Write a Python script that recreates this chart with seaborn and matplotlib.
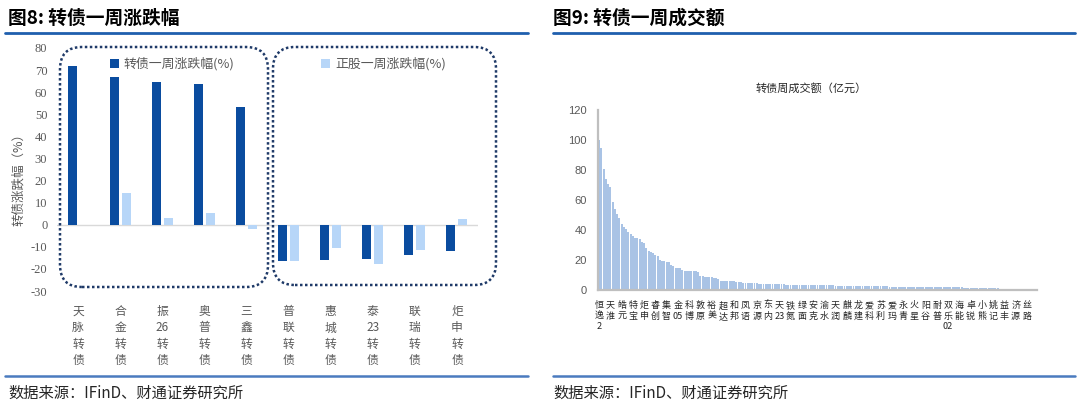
import re
import numpy as np
import pandas as pd
import matplotlib
matplotlib.use('Agg')
import matplotlib.pyplot as plt
import seaborn as sns
from matplotlib.patches import FancyBboxPatch
from matplotlib.lines import Line2D
from matplotlib.transforms import IdentityTransform

sns.set_theme(style='white')
plt.rcParams['font.family'] = ['Noto Sans CJK SC', 'DejaVu Sans']
plt.rcParams['axes.unicode_minus'] = False

# ---- data: 图8 转债一周涨跌幅 ----
bonds = ['天脉转债', '合金转债', '振26转债', '奥普转债', '三鑫转债',
         '普联转债', '惠城转债', '泰23转债', '联瑞转债', '炬申转债']
cb_chg = [72, 67, 64.5, 63.5, 53.5, -16.5, -16, -15.5, -13.5, -12]
stock_chg = [0, 14.5, 3, 5.5, -2, -16.5, -10.5, -18, -11.5, 2.5]
series_names = ['转债一周涨跌幅(%)', '正股一周涨跌幅(%)']

# ---- data: 图9 转债一周成交额 (亿元), sorted descending ----
turnover = [
    100, 95, 81, 74, 70.5, 68.5, 59, 54, 51, 48,
    44, 42, 41, 39, 37.5, 36, 35, 34.5, 34, 32,
    31.5, 28, 26, 25.5, 25, 23.5, 23, 20, 19.5, 19.5,
    19, 18.5, 16.5, 16, 15, 14.8, 14.5, 13.3, 13, 13,
    12.8, 12.8, 12.7, 12.5, 12.2, 9.5, 9.3, 9, 8.8, 8.6,
    8.4, 8.2, 8, 7.5, 6.3, 6.2, 6.1, 6, 5.9, 5.8,
    5.7, 5.5, 5.3, 5.1, 5, 4.9, 4.8, 4.7, 4.6, 4.5,
    4.4, 4.3, 4.2, 4.2, 4.1, 4.1, 4, 4, 3.9, 3.9,
    3.8, 3.8, 3.7, 3.6, 3.6, 3.5, 3.5, 3.5, 3.4, 3.4,
    3.4, 3.3, 3.3, 3.3, 3.3, 3.2, 3.2, 3.2, 3.2, 3.2,
    3.1, 3.1, 3.1, 3.1, 3.1, 3.0, 3.0, 3.0, 2.9, 2.9,
    2.9, 2.8, 2.8, 2.8, 2.7, 2.7, 2.7, 2.7, 2.6, 2.6,
    2.6, 2.5, 2.5, 2.5, 2.5, 2.4, 2.4, 2.4, 2.4, 2.3,
    2.3, 2.3, 2.3, 2.2, 2.2, 2.2, 2.2, 2.1, 2.1, 2.1,
    2.1, 2.0, 2.0, 2.0, 2.0, 2.0, 1.9, 1.9, 1.9, 1.9,
    1.9, 1.8, 1.8, 1.8, 1.8, 1.8, 1.7, 1.7, 1.7, 1.7,
    1.7, 1.7, 1.6, 1.6, 1.6, 1.6, 1.5, 1.5, 1.4, 1.4,
    1.3, 1.3, 1.2, 1.2, 1.1, 1.1, 1.1, 1.1, 1.0, 1.0,
    1.0, 1.0, 1.0, 1.0, 1.0, 0.9, 0.9, 0.9, 0.9, 0.9,
    0.9, 0.9, 0.9, 0.9, 0.9,
]
# every 5th bar carries a (truncated) name on the axis
shown_names = ['恒逸2', '天淮', '皓元', '特宝', '炬申', '睿创', '集智', '金05', '科博', '敦原',
               '裕美', '超达', '和邦', '凤语', '京源', '东内', '天23', '铁氮', '绿面', '安克',
               '渝水', '天润', '麒麟', '龙建', '爱科', '苏利', '爱玛', '永青', '火星', '阳谷',
               '耐普', '双乐02', '海能', '卓锐', '小熊', '姚记', '益丰', '济源', '丝路']
label_step = 5

dark_blue = '#0a4c9f'
light_blue = '#b7d6f8'
bar_blue = '#a9c3e5'
grey_txt = '#595959'
W, H = 1080, 412


def stack(s):
    return '\n'.join(re.findall(r'\d+|.', s))


fig = plt.figure(figsize=(W / 100, H / 100), dpi=100)

# ---------------- left chart ----------------
ax1 = fig.add_axes([57 / W, 1 - 291 / H, 421 / W, 243 / H])
df = pd.DataFrame({
    'bond': bonds * 2,
    'series': [series_names[0]] * len(bonds) + [series_names[1]] * len(bonds),
    'value': cb_chg + stock_chg,
})
sns.barplot(data=df, x='bond', y='value', hue='series', palette=[dark_blue, light_blue],
            width=0.57, gap=0.25, saturation=1, linewidth=0, legend=False, ax=ax1)
ax1.axhline(0, color='#d9d9d9', lw=1, zorder=0)
ax1.set_ylim(-30, 80)
ax1.set_yticks(range(-30, 81, 10))
ax1.set_xlim(-0.5, len(bonds) - 0.5)
for s in ax1.spines.values():
    s.set_visible(False)
ax1.tick_params(axis='both', length=0)
ax1.tick_params(axis='y', pad=7)
for t in ax1.get_yticklabels():
    t.set_family('Liberation Serif')
    t.set_fontsize(9)
    t.set_color(grey_txt)
ax1.set_xticks(range(len(bonds)))
ax1.set_xticklabels([stack(b) for b in bonds], fontsize=8.5, color=grey_txt,
                    linespacing=1.35, va='top')
ax1.tick_params(axis='x', pad=10)
ax1.set_xlabel('')
ax1.set_ylabel('转债涨跌幅（%）', fontsize=9, color=grey_txt)
ax1.yaxis.set_label_coords(-0.076, 0.47)

leg1 = ax1.legend([ax1.containers[0]], [series_names[0]], loc='center left',
                  bbox_to_anchor=(0.11, 0.934), frameon=False, fontsize=9.3,
                  handlelength=0.7, handleheight=0.7, handletextpad=0.4, borderpad=0)
for t in leg1.get_texts():
    t.set_color(grey_txt)
ax1.add_artist(leg1)
leg2 = ax1.legend([ax1.containers[1]], [series_names[1]], loc='center left',
                  bbox_to_anchor=(0.612, 0.934), frameon=False, fontsize=9.3,
                  handlelength=0.7, handleheight=0.7, handletextpad=0.4, borderpad=0)
for t in leg2.get_texts():
    t.set_color(grey_txt)


def pix_box(x0, y0, x1, y1):
    p = FancyBboxPatch((x0, H - y1), x1 - x0, y1 - y0,
                       boxstyle='round,pad=0,rounding_size=22',
                       transform=IdentityTransform(), fill=False,
                       ec='#1f3a68', lw=1.8, ls=(0, (1, 1)))
    fig.add_artist(p)


pix_box(60, 47, 268, 287)
pix_box(273, 47, 496, 285)

# ---------------- right chart ----------------
ax2 = fig.add_axes([598 / W, 1 - 290 / H, 439 / W, 180 / H])
idx = np.arange(len(turnover))
sns.barplot(x=idx, y=turnover, color=bar_blue, saturation=1, width=0.85,
            linewidth=0, ax=ax2)
ax2.set_ylim(0, 120)
ax2.set_yticks(range(0, 121, 20))
ax2.set_xlim(-0.5, len(turnover) - 0.5)
for side in ['top', 'right']:
    ax2.spines[side].set_visible(False)
for side in ['left', 'bottom']:
    ax2.spines[side].set_color('#bfbfbf')
    ax2.spines[side].set_linewidth(1.6)
ax2.tick_params(axis='both', length=0)
ax2.tick_params(axis='y', pad=8)
for t in ax2.get_yticklabels():
    t.set_family('Liberation Sans')
    t.set_fontsize(8)
    t.set_color(grey_txt)
ax2.set_xticks(idx[::label_step])
ax2.set_xticklabels([stack(n) for n in shown_names], fontsize=6.5, color='#262626',
                    linespacing=1.2, va='top')
ax2.tick_params(axis='x', pad=8)
ax2.set_xlabel('')
ax2.set_ylabel('')
fig.text(811 / W, 1 - 88 / H, '转债周成交额（亿元）', fontsize=8, ha='center',
         va='center', color='#262626')

# ---------------- titles, rules, sources ----------------
fig.text(8 / W, 1 - 18 / H, '图8: 转债一周涨跌幅', fontsize=13.5, fontweight='bold',
         va='center', ha='left', color='black')
fig.text(553 / W, 1 - 18 / H, '图9: 转债一周成交额', fontsize=13.5, fontweight='bold',
         va='center', ha='left', color='black')
for x0, x1 in [(5, 528), (553, 1075)]:
    fig.add_artist(Line2D([x0 / W, x1 / W], [1 - 32.5 / H] * 2, transform=fig.transFigure,
                          color='#1f5fae', lw=2))
    fig.add_artist(Line2D([x0 / W, x1 / W], [1 - 376 / H] * 2, transform=fig.transFigure,
                          color='#4a7bbf', lw=1.8))
fig.text(8 / W, 1 - 393 / H, '数据来源：IFinD、财通证券研究所', fontsize=11,
         va='center', ha='left', color='#262626')
fig.text(553 / W, 1 - 393 / H, '数据来源：IFinD、财通证券研究所', fontsize=11,
         va='center', ha='left', color='#262626')

fig.savefig('out.png', dpi=100, facecolor='white')
